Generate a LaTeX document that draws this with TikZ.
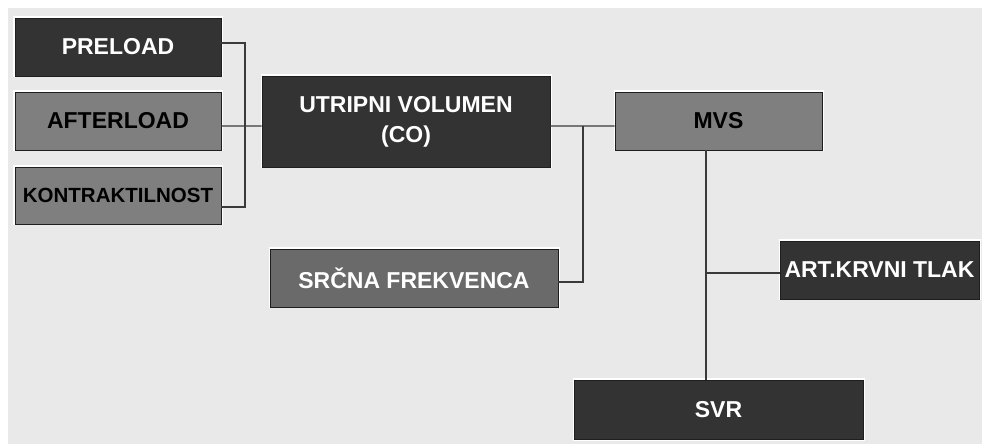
\documentclass[tikz,border=0pt]{standalone}
\usepackage{fontspec}
\setmainfont{Liberation Sans}
\usetikzlibrary{calc}
\definecolor{bgcol}{HTML}{E9E9E9}
\definecolor{darkbox}{HTML}{333333}
\definecolor{midbox}{HTML}{7F7F7F}
\definecolor{srcbox}{HTML}{6A6A6A}
\definecolor{edgecol}{HTML}{1E1E1E}
\definecolor{linkcol}{HTML}{3A3A3A}
\begin{document}
\begin{tikzpicture}[x=1bp,y=-1bp,
  box/.style={rectangle, draw=edgecol, line width=0.9bp, inner sep=0pt,
    align=center, font=\fontsize{23bp}{30bp}\selectfont\bfseries,
    preaction={draw=white, line width=3bp}},
  dark/.style={box, fill=darkbox, text=white},
  mid/.style={box, fill=midbox, text=black},
  link/.style={draw=linkcol, line width=1.3bp}]
\useasboundingbox (0,0) rectangle (982,444);
\fill[white] (0,0) rectangle (982,444);
\fill[bgcol] (8,8) rectangle (982,444);

% left column: the three determinants of stroke volume
\node[dark, minimum width=206bp, minimum height=58bp] (pre) at (118,47) {PRELOAD};
\node[mid, minimum width=206bp, minimum height=58bp] (aft) at (118,121) {AFTERLOAD};
\node[mid, minimum width=206bp, minimum height=57bp,
  font=\fontsize{20.5bp}{26bp}\selectfont\bfseries] (kon) at (118,195.5) {KONTRAKTILNOST};

% middle column
\node[dark, minimum width=288bp, minimum height=91bp] (utr) at (406,121.5) {UTRIPNI VOLUMEN\\(CO)};
\node[box, fill=srcbox, text=white, minimum width=288bp, minimum height=58bp] (src) at (414,278) {SRČNA FREKVENCA};

% right column
\node[mid, minimum width=207bp, minimum height=58bp] (mvs) at (718.5,121) {MVS};
\node[dark, minimum width=199bp, minimum height=58bp] (art) at (879.5,270) {ART.KRVNI TLAK};
\node[dark, minimum width=289bp, minimum height=59bp] (svr) at (718.5,409.5) {SVR};

% bracket joining the left column into the stroke volume box
\coordinate (bl) at (245,126);
\draw[link] ($(pre.east)+(0,-4)$) -| (bl);
\draw[link] ($(kon.east)+(0,11.5)$) -| (bl);
\draw[link] ($(aft.east)+(0,5)$) -- ($(utr.west)+(0,4.5)$);

% stroke volume and heart rate feed cardiac output
\coordinate (br) at (583,126);
\draw[link] ($(utr.east)+(0,4.5)$) -- ($(mvs.west)+(0,5)$);
\draw[link] ($(src.east)+(0,4)$) -| (br);

% cardiac output down to resistance, with the pressure branch
\coordinate (jn) at (706,273);
\draw[link] ($(mvs.south)+(-12.5,0)$) -- ($(svr.north)+(-12.5,0)$);
\draw[link] (jn) -- (art.west |- jn);
\end{tikzpicture}
\end{document}
